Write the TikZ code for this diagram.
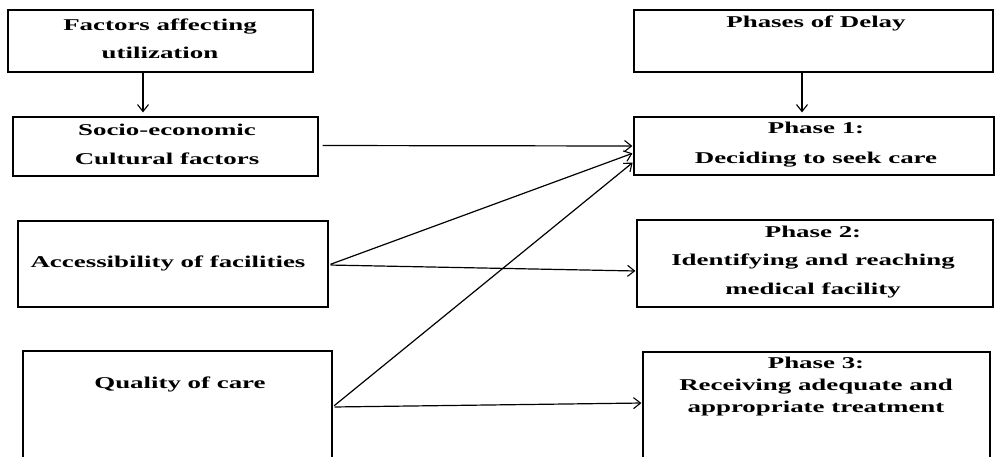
\documentclass[tikz,border=0pt]{standalone}
\usepackage{fontspec}
\setmainfont{Liberation Serif}[FakeStretch=1.63]
\usetikzlibrary{arrows.meta}
\begin{document}
\begin{tikzpicture}[x=1pt,y=-1pt,
  box/.style={draw=black, line width=1.2pt, inner sep=0pt, rectangle},
  lbl/.style={anchor=base, align=center, inner sep=0pt, font=\bfseries\fontsize{16.5}{29}\selectfont},
  arr/.style={line width=1.2pt, -{Straight Barb[length=7pt,width=11pt,line width=1.1pt]}}]
\clip (0,0) rectangle (995,456);
% left boxes
\node[box, minimum width=305pt, minimum height=62pt] (f1) at (160.5,41) {};
\node[box, minimum width=305pt, minimum height=59pt] (f2) at (165.5,146.5) {};
\node[box, minimum width=310pt, minimum height=86pt] (f3) at (173,264) {};
\node[box, minimum width=309pt, minimum height=124pt] (f4) at (177.5,413) {};
% right boxes
\node[box, minimum width=359pt, minimum height=62pt] (p0) at (813.5,41) {};
\node[box, minimum width=360pt, minimum height=58pt] (p1) at (814,146) {};
\node[box, minimum width=356pt, minimum height=87pt] (p2) at (815,263.5) {};
\node[box, minimum width=347pt, minimum height=123pt] (p3) at (816.5,413.5) {};
% texts (base anchor = baseline of last line)
\node[lbl, font=\bfseries\fontsize{16.5}{28}\selectfont] (t1) at (160,58) {Factors affecting\\utilization};
\node[lbl] (t2) at (167,164) {Socio-economic\\Cultural factors};
\node[lbl] (t3) at (168,267) {Accessibility of facilities};
\node[lbl] (t4) at (180,388) {Quality of care};
\node[lbl] (t5) at (816,27) {Phases of Delay};
\node[lbl, font=\bfseries\fontsize{16.5}{30}\selectfont] (t6) at (816,163) {Phase 1:\\Deciding to seek care};
\node[lbl, font=\bfseries\fontsize{16.5}{28.5}\selectfont] (t7) at (813,294) {Phase 2:\\Identifying and reaching\\medical facility};
\node[lbl, font=\bfseries\fontsize{16.5}{22}\selectfont] (t8) at (816,412) {Phase 3:\\Receiving adequate and\\appropriate treatment};
% connectors
\draw[arr, shorten >=4pt] ([xshift=-17.5pt]f1.south) -- ([xshift=-22.5pt]f2.north);
\draw[arr, shorten >=4pt] ([xshift=-11.5pt]p0.south) -- ([xshift=-12pt]p1.north);
\draw[arr, shorten <=4pt, shorten >=1pt] ([yshift=1pt]f2.east) -- (p1.west);
\draw[arr, shorten <=2pt, shorten >=1pt] ([yshift=-1pt]f3.east) -- ([yshift=-7pt]p1.west);
\draw[arr, shorten <=2pt, shorten >=1pt] ([yshift=-1pt]f3.east) -- ([yshift=-7.5pt]p2.west);
\draw[arr, shorten <=2pt, shorten >=1pt] ([yshift=6pt]f4.east) -- ([yshift=-16pt]p1.west);
\draw[arr, shorten <=2pt, shorten >=1pt] ([yshift=6pt]f4.east) -- ([yshift=10.5pt]p3.west);
\end{tikzpicture}
\end{document}
